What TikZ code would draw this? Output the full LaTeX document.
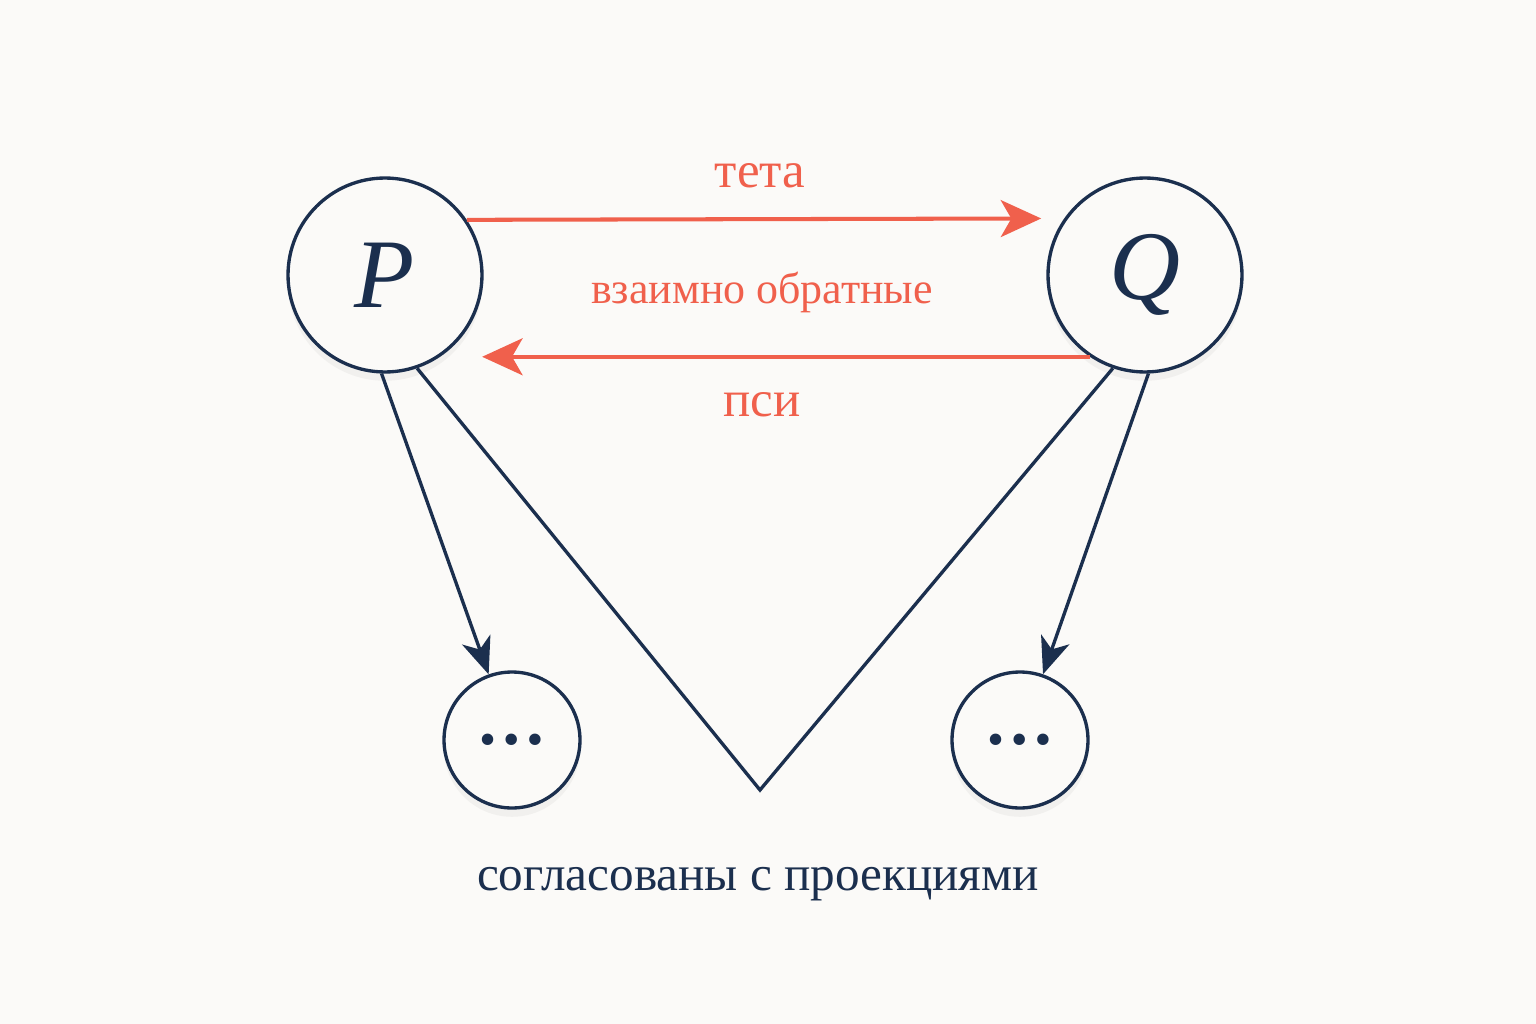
\documentclass[tikz,border=0pt]{standalone}
\usepackage{fontspec}
\setmainfont{Liberation Serif}
\usepackage{tikz}
\usetikzlibrary{arrows.meta,shadows}
\definecolor{navy}{HTML}{1B2F4E}
\definecolor{salmon}{HTML}{F0604C}
\definecolor{paper}{HTML}{FBFAF8}

\begin{document}
\begin{tikzpicture}[x=0.02cm,y=-0.02cm,
                   obj/.style={circle,draw=navy,line width=1.9pt,fill=paper,inner sep=0pt,text=navy,
                               drop shadow={opacity=0.08,shadow xshift=0pt,shadow yshift=-5pt}},
                   big/.style={obj,minimum size=3.88cm,font=\fontsize{56}{60}\selectfont\itshape},
                   small/.style={obj,minimum size=2.72cm,font=\fontsize{40}{40}\selectfont\bfseries},
                   iso/.style={draw=salmon,line width=2.3pt,-{Stealth[length=23pt,width=21pt,inset=6pt]}},
                   proj/.style={draw=navy,line width=1.9pt,-{Stealth[length=21pt,width=17pt,inset=6pt]}},
                   redlab/.style={text=salmon},
                   navylab/.style={text=navy}]
\fill[paper] (0,0) rectangle (1536,1024);
\node[big] (P) at (385,275) {P};
\node[big] (Q) at (1145,275) {Q};
\node[small] (L) at (512,740) {…};
\node[small] (R) at (1020,740) {…};
\coordinate (apex) at (760,790);
\draw[iso,shorten >=0.46cm] (P.34.5) -- (Q.145.5);
\draw[iso,shorten >=0.84cm] (Q.236.6) -- (P.-56.6);
\draw[proj] (P.268) -- (L);
\draw[proj] (Q.272) -- (R);
\draw[navy,line width=1.9pt,line join=miter] (P.289) -- (apex) -- (Q.251);
\node[redlab,font=\fontsize{29}{30}\selectfont] (theta) at (760,176) {тета};
\node[redlab,font=\fontsize{25}{28}\selectfont] (inv) at (762,292) {взаимно обратные};
\node[redlab,font=\fontsize{29}{30}\selectfont] (psi) at (762,405) {пси};
\node[navylab,font=\fontsize{28}{30}\selectfont] (compat) at (758,884) {согласованы с проекциями};
\end{tikzpicture}
\end{document}
